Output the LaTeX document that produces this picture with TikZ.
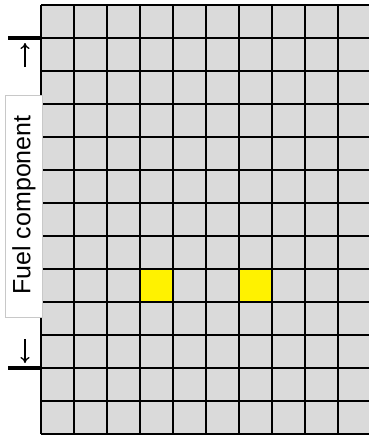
\documentclass[tikz,border=0pt]{standalone}
\usepackage{fontspec}
\setmainfont{Liberation Sans}
\usetikzlibrary{arrows.meta}
\definecolor{cellgray}{RGB}{218,218,218}
\definecolor{boxgray}{RGB}{200,200,200}
\tikzset{
  gridline/.style={line width=1.4pt, black},
  hotcell/.style={fill=yellow},
  bar/.style={line width=3.5pt, black},
  dirarrow/.style={line width=1.3pt, -{To[length=6pt,width=9pt]}},
  labelbox/.style={draw=boxgray, line width=0.8pt, fill=white, minimum width=37pt, minimum height=222pt, inner sep=0pt}
}
\begin{document}
\begin{tikzpicture}[x=1pt,y=-1pt]
\useasboundingbox (0,0) rectangle (369,437);
\begin{scope}
\clip (0,0) rectangle (369,437);
\fill[cellgray] (41,5) rectangle (380,434);
\fill[hotcell] (140,269) rectangle (173,302);
\fill[hotcell] (239,269) rectangle (272,302);
\foreach \i in {0,...,10} {
  \draw[gridline] ({41+33*\i},5) -- ({41+33*\i},434);
}
\foreach \j in {0,...,13} {
  \draw[gridline] (41,{5+33*\j}) -- (380,{5+33*\j});
}
\end{scope}
\draw[bar] (8,38) -- (41,38);
\draw[bar] (8,368) -- (41,368);
\coordinate (upfrom) at (25,67);
\coordinate (upto) at (25,43);
\coordinate (downfrom) at (25,339);
\coordinate (downto) at (25,363);
\draw[dirarrow] (upfrom) -- (upto);
\draw[dirarrow] (downfrom) -- (downto);
\node[labelbox] (lbl) at (23.5,206) {};
\node[rotate=90, font=\fontsize{25}{30}\selectfont, inner sep=0pt] (lbltext) at (24,205) {Fuel component};
\end{tikzpicture}
\end{document}
